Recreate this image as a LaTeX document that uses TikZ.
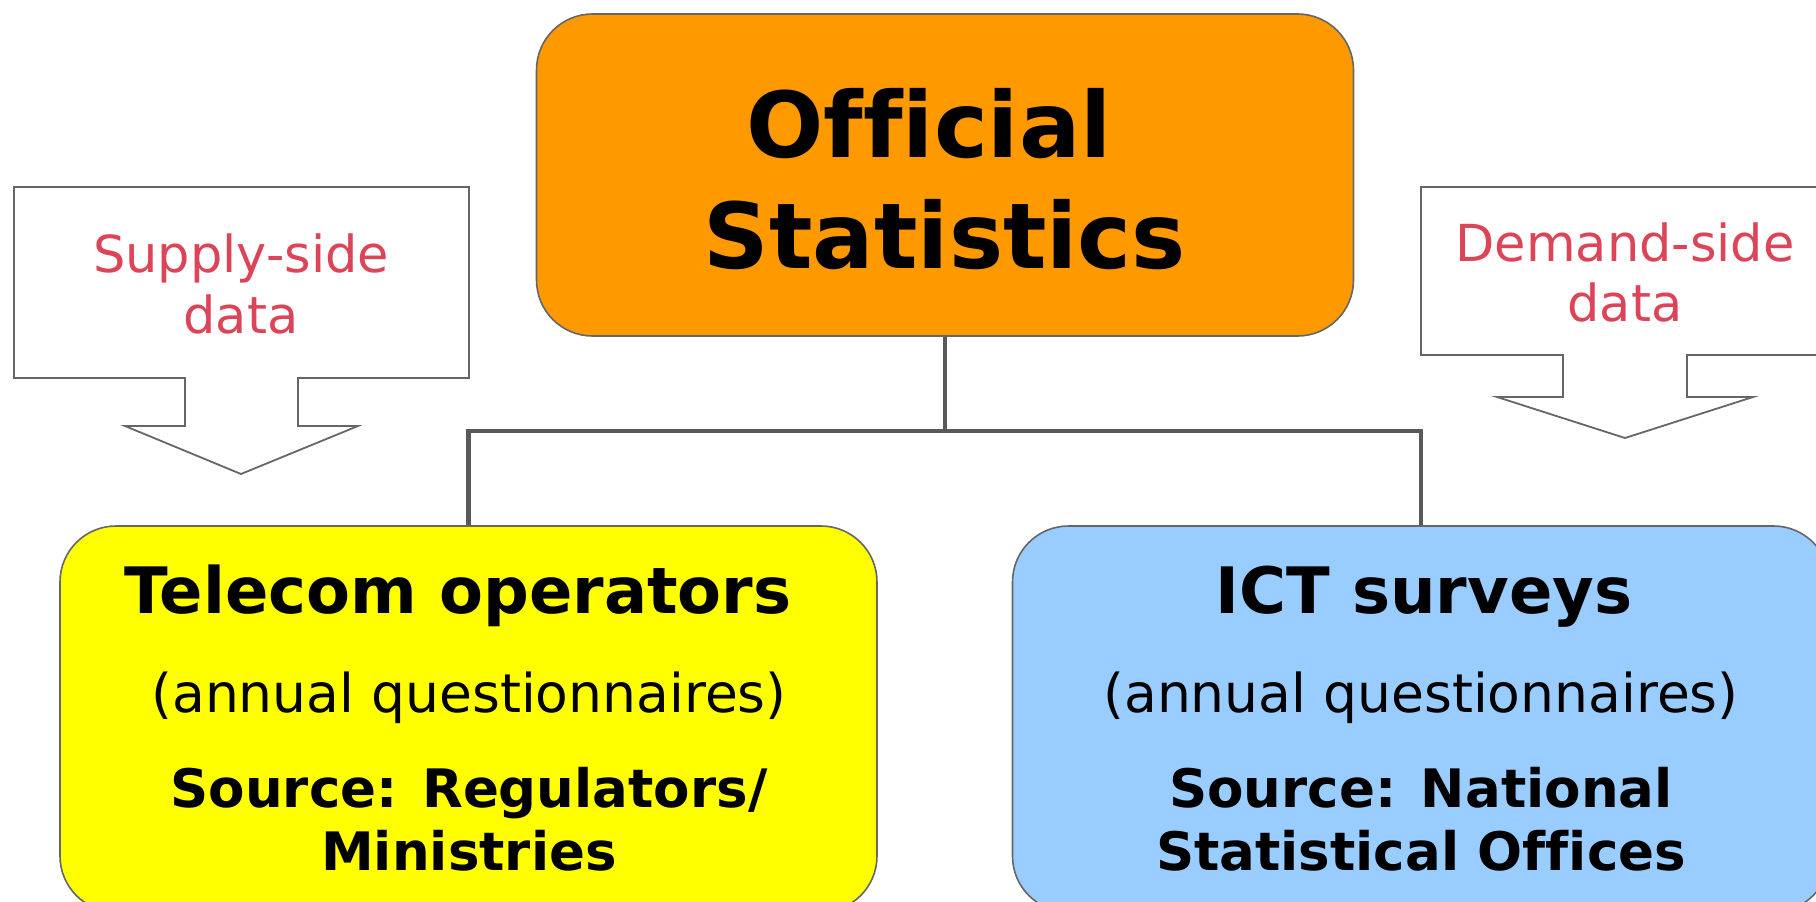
\documentclass[tikz,border=0pt]{standalone}
\usepackage{fontspec}
\setmainfont{DejaVu Sans}[Ligatures=NoCommon]
\definecolor{bordergray}{HTML}{666666}
\definecolor{conngray}{HTML}{595959}
\definecolor{orangefill}{HTML}{FF9900}
\definecolor{yellowfill}{HTML}{FFFF00}
\definecolor{bluefill}{HTML}{99CCFF}
\definecolor{labelred}{RGB}{220,68,88}
\begin{document}
\begin{tikzpicture}[x=1pt,y=-1pt,
  box/.style={draw=bordergray, line width=1.6pt, rounded corners=56pt, inner sep=0pt},
  conn/.style={draw=conngray, line width=4.2pt},
  callout/.style={draw=bordergray, line width=1.8pt, fill=white, line join=miter},
  txt/.style={anchor=base, inner sep=0pt},
  hugebold/.style={font=\fontsize{91}{108}\selectfont\bfseries},
  headbold/.style={font=\fontsize{64}{76}\selectfont\bfseries},
  subreg/.style={font=\fontsize{53.5}{64}\selectfont},
  srcbold/.style={font=\fontsize{53}{64}\selectfont\bfseries},
  redlab/.style={font=\fontsize{51}{61}\selectfont, text=labelred}
]
\useasboundingbox (0,0) rectangle (1816,902);
\clip (0,0) rectangle (1816,902);

% main boxes
\node[box, fill=orangefill, minimum width=817pt, minimum height=322pt] (off) at (945,175) {};
\node[box, fill=yellowfill, minimum width=817pt, minimum height=386pt] (tel) at (468.5,719) {};
\node[box, fill=bluefill, minimum width=817pt, minimum height=386pt] (ict) at (1421,719) {};

% connectors
\coordinate (j) at (945,431);
\draw[conn] (off.south) -- (j);
\draw[conn] (j) -| (tel.north);
\draw[conn] (j) -| (ict.north);

% texts in the orange box
\node[txt, hugebold] (off1) at (929,157) {Official};
\node[txt, hugebold] (off2) at (945,268) {Statistics};

% texts in the yellow box
\node[txt, headbold] (tel1) at (458,613) {Telecom operators};
\node[txt, subreg] (tel2) at (469,712) {(annual questionnaires)};
\node[txt, srcbold] (tel3) at (469,807) {Source: Regulators/};
\node[txt, srcbold] (tel4) at (469,870) {Ministries};

% texts in the blue box
\node[txt, headbold] (ict1) at (1424,613) {ICT surveys};
\node[txt, subreg] (ict2) at (1421,712) {(annual questionnaires)};
\node[txt, srcbold] (ict3) at (1421,807) {Source: National};
\node[txt, srcbold] (ict4) at (1421,870) {Statistical Offices};

% supply-side callout
\draw[callout] (14,187) -- (469,187) -- (469,378) -- (298,378) -- (298,426)
  -- (358,426) -- (241,474) -- (125,426) -- (185,426) -- (185,378) -- (14,378) -- cycle;
\node[txt, redlab] (sup1) at (241,272) {Supply-side};
\node[txt, redlab] (sup2) at (241,333) {data};

% demand-side callout
\draw[callout] (1421,187) -- (1829,187) -- (1829,355) -- (1687,355) -- (1687,397)
  -- (1753,397) -- (1625,438) -- (1497,397) -- (1563,397) -- (1563,355) -- (1421,355) -- cycle;
\node[txt, redlab] (dem1) at (1625,261) {Demand-side};
\node[txt, redlab] (dem2) at (1625,321) {data};
\end{tikzpicture}
\end{document}
